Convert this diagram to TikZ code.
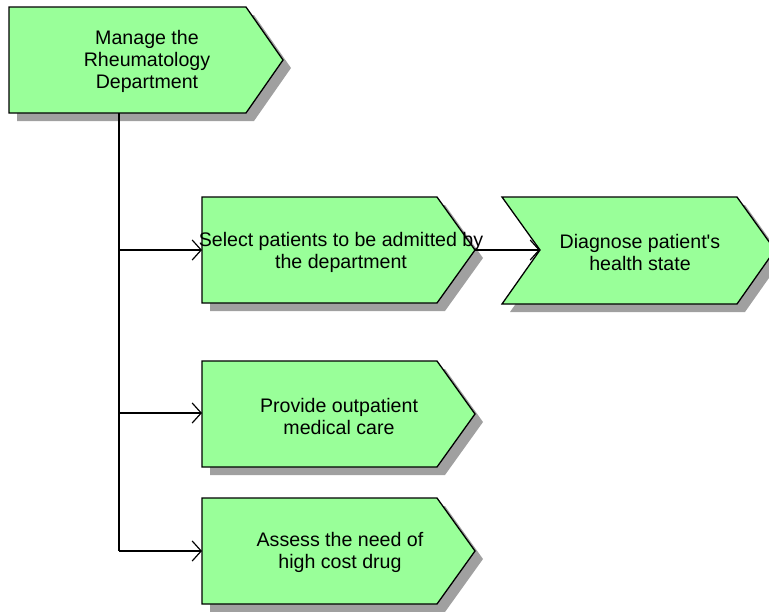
\documentclass[tikz,border=0pt]{standalone}
\usepackage{fontspec}
\setmainfont{Liberation Sans}
\usetikzlibrary{arrows.meta}
\definecolor{fnfill}{RGB}{153,255,153}
\definecolor{fnshadow}{RGB}{160,160,160}
\tikzset{
  fnbody/.style={fill=fnfill, draw=black, line width=1.3pt, line join=miter},
  fnshade/.style={fill=fnshadow},
  lbl/.style={align=center, font=\fontsize{19.6}{22}\selectfont, inner sep=0pt},
  trunk/.style={line width=1.2pt},
  conn/.style={line width=1.2pt, -{Straight Barb[length=9pt,width=20pt,line width=1.2pt]}}
}
\begin{document}
\begin{tikzpicture}[x=1pt,y=-1pt]
\useasboundingbox (0,0) rectangle (769,611);
\clip (0,0) rectangle (769,611);
% Manage
\fill[fnshade] (17,15) -- (254,15) -- (291,68) -- (254,121) -- (17,121) -- cycle;
\draw[fnbody] (9,7) -- (246,7) -- (283,60) -- (246,113) -- (9,113) -- cycle;
\node[lbl] (manage) at (147,61) {Manage the\\Rheumatology\\Department};
% Select
\fill[fnshade] (210,205) -- (445,205) -- (483,258) -- (445,311) -- (210,311) -- cycle;
\draw[fnbody] (202,197) -- (437,197) -- (475,250) -- (437,303) -- (202,303) -- cycle;
\node[lbl] (select) at (341,252) {Select patients to be admitted by\\the department};
% Diagnose
\fill[fnshade] (510,205) -- (745,205) -- (783,258) -- (745,312) -- (510,312) -- (548,258) -- cycle;
\draw[fnbody] (502,197) -- (737,197) -- (775,250) -- (737,304) -- (502,304) -- (540,250) -- cycle;
\node[lbl] (diagnose) at (640,252) {Diagnose patient\textquotesingle s\\health state};
% Provide
\fill[fnshade] (210,369) -- (445,369) -- (483,422) -- (445,475) -- (210,475) -- cycle;
\draw[fnbody] (202,361) -- (437,361) -- (475,414) -- (437,467) -- (202,467) -- cycle;
\node[lbl] (provide) at (339,416) {Provide outpatient\\medical care};
% Assess
\fill[fnshade] (210,506) -- (445,506) -- (483,559) -- (445,612) -- (210,612) -- cycle;
\draw[fnbody] (202,498) -- (437,498) -- (475,551) -- (437,604) -- (202,604) -- cycle;
\node[lbl] (assess) at (340,552) {Assess the need of\\high cost drug};
% connectors
\coordinate (ttop) at (119,113);
\coordinate (j1) at (119,250);
\coordinate (j2) at (119,413);
\coordinate (j3) at (119,551);
\coordinate (selin) at (202,250);
\coordinate (selout) at (475,250);
\coordinate (diagin) at (540,250);
\coordinate (provin) at (202,413);
\coordinate (assin) at (202,551);
\draw[trunk] (ttop) -- (j3);
\draw[conn] (j1) -- (selin);
\draw[conn] (j2) -- (provin);
\draw[conn] (j3) -- (assin);
\draw[conn] (selout) -- (diagin);
\end{tikzpicture}
\end{document}
